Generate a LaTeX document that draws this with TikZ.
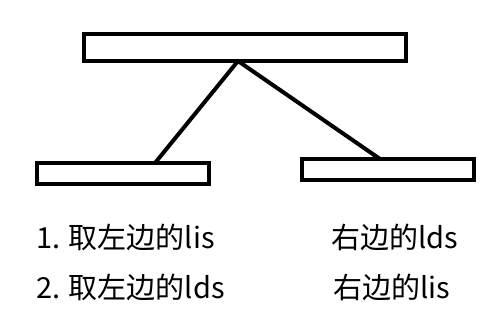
\documentclass[tikz,border=0pt]{standalone}
\usepackage{fontspec}
\newfontfamily\cjk{Noto Sans CJK SC}
\begin{document}
\begin{tikzpicture}[x=1pt,y=-1pt,
  box/.style={draw=black,line width=4.4pt,fill=white,inner sep=0pt,outer sep=0pt},
  conn/.style={draw=black,line width=4pt},
  lbl/.style={anchor=base west,inner sep=0pt,font=\cjk\fontsize{29}{34}\selectfont}]
\useasboundingbox[fill=white] (0,0) rectangle (498,325);
\node[box,minimum width=322pt,minimum height=27pt] (top) at (245,47.5) {};
\node[box,minimum width=172pt,minimum height=21pt] (left) at (123,173.5) {};
\node[box,minimum width=172pt,minimum height=21pt] (right) at (388,169.5) {};
\coordinate (j) at (238,61);
\coordinate (lj) at (155,163);
\coordinate (rj) at (380,159);
\draw[conn] (j) -- (lj);
\draw[conn] (j) -- (rj);
\node[lbl] (t1) at (36,248) {1. 取左边的lis};
\node[lbl] (t2) at (36,298) {2. 取左边的lds};
\node[lbl] (t3) at (331,248) {右边的lds};
\node[lbl] (t4) at (333,298) {右边的lis};
\end{tikzpicture}
\end{document}
